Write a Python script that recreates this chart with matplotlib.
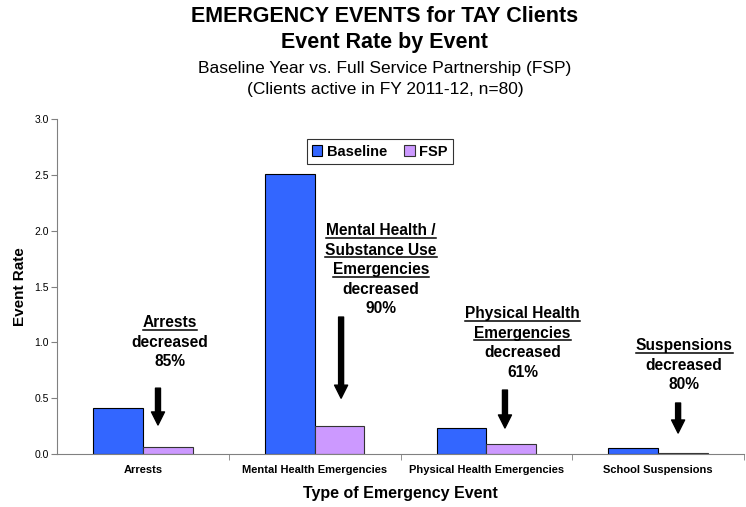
import matplotlib.pyplot as plt
from matplotlib.lines import Line2D
import numpy as np

plt.rcParams['font.family'] = ['Liberation Sans', 'DejaVu Sans']

categories = ['Arrests', 'Mental Health Emergencies', 'Physical Health Emergencies', 'School Suspensions']
baseline = [0.41, 2.51, 0.23, 0.05]
fsp = [0.06, 0.25, 0.09, 0.01]

# (underlined heading lines, plain lines, text x, first baseline y, arrow x, arrow top, arrow tip)
notes = [
    (['Arrests'], ['decreased', '85%'], 0.158, 1.137, 0.088, 0.59, 0.26),
    (['Mental Health /', 'Substance Use', 'Emergencies'], ['decreased', '90%'], 1.386, 1.961, 1.154, 1.227, 0.50),
    (['Physical Health', 'Emergencies'], ['decreased', '61%'], 2.21, 1.218, 2.108, 0.573, 0.233),
    (['Suspensions'], ['decreased', '80%'], 3.151, 0.931, 3.116, 0.457, 0.188),
]

fig = plt.figure(figsize=(7.46, 5.07), dpi=100)
ax = fig.add_axes([0.0764, 0.1045, 0.921, 0.6605])

x = np.arange(len(categories))
w = 0.29
ax.bar(x - w / 2, baseline, w, color='#3366FF', edgecolor='black', linewidth=0.8, label='Baseline')
ax.bar(x + w / 2, fsp, w, color='#CC99FF', edgecolor='#333333', linewidth=0.8, label='FSP')

ax.set_xlim(-0.5, 3.5)
ax.set_ylim(0, 3.0)
yt = [0, 0.5, 1.0, 1.5, 2.0, 2.5, 3.0]
ax.set_yticks(yt)
ax.set_yticklabels([f'{v:.1f}' for v in yt], fontsize=7.5)
ax.set_xticks(x)
ax.set_xticklabels(categories, fontsize=8, fontweight='bold')
ax.tick_params(axis='x', length=0, pad=8)
ax.set_xticks([0.5, 1.5, 2.5, 3.5], minor=True)
ax.tick_params(axis='x', which='minor', length=4, color='#808080')
ax.tick_params(axis='y', length=4, color='#808080', pad=2)
for s in ['top', 'right']:
    ax.spines[s].set_visible(False)
ax.spines['left'].set_color('#808080')
ax.spines['bottom'].set_color('#808080')

ax.set_xlabel('Type of Emergency Event', fontsize=11.5, fontweight='bold', labelpad=8)
ax.set_ylabel('Event Rate', fontsize=11, fontweight='bold', labelpad=5)

leg = fig.legend(loc='center', bbox_to_anchor=(0.509, 0.701), ncol=2,
                 prop={'weight': 'bold', 'size': 10.5}, frameon=True, fancybox=False,
                 edgecolor='black', handlelength=0.7, handleheight=0.7, handletextpad=0.3,
                 columnspacing=1.2, borderpad=0.35)
leg.get_frame().set_linewidth(0.8)

cx = 0.516
fig.text(cx, 0.9566, 'EMERGENCY EVENTS for TAY Clients', ha='center', va='baseline', fontsize=15.5, fontweight='bold')
fig.text(cx, 0.9053, 'Event Rate by Event', ha='center', va='baseline', fontsize=15.5, fontweight='bold')
fig.text(cx, 0.856, 'Baseline Year vs. Full Service Partnership (FSP)', ha='center', va='baseline', fontsize=12.5)
fig.text(cx, 0.8146, '(Clients active in FY 2011-12, n=80)', ha='center', va='baseline', fontsize=12.5)

fig.canvas.draw()
renderer = fig.canvas.get_renderer()
line_step = 0.175  # data units between text lines
fw = fig.dpi * fig.get_figwidth()
fh = fig.dpi * fig.get_figheight()
for heads, rest, tx, ty, axx, a_top, a_tip in notes:
    y = ty
    for h in heads:
        t = ax.text(tx, y, h, ha='center', va='baseline', fontsize=11.2, fontweight='bold')
        bb = t.get_window_extent(renderer)
        base_px = ax.transData.transform((tx, y))[1]
        fig.add_artist(Line2D([bb.x0 / fw, bb.x1 / fw], [(base_px - 2.5) / fh] * 2,
                              color='black', linewidth=1.1, transform=fig.transFigure))
        y -= line_step
    for r in rest:
        ax.text(tx, y, r, ha='center', va='baseline', fontsize=11.2, fontweight='bold')
        y -= line_step
    ax.annotate('', xy=(axx, a_tip), xytext=(axx, a_top),
                arrowprops=dict(width=3.6, headwidth=9.4, headlength=9.4, color='black',
                                shrink=0))

fig.savefig('out.png', dpi=100)
